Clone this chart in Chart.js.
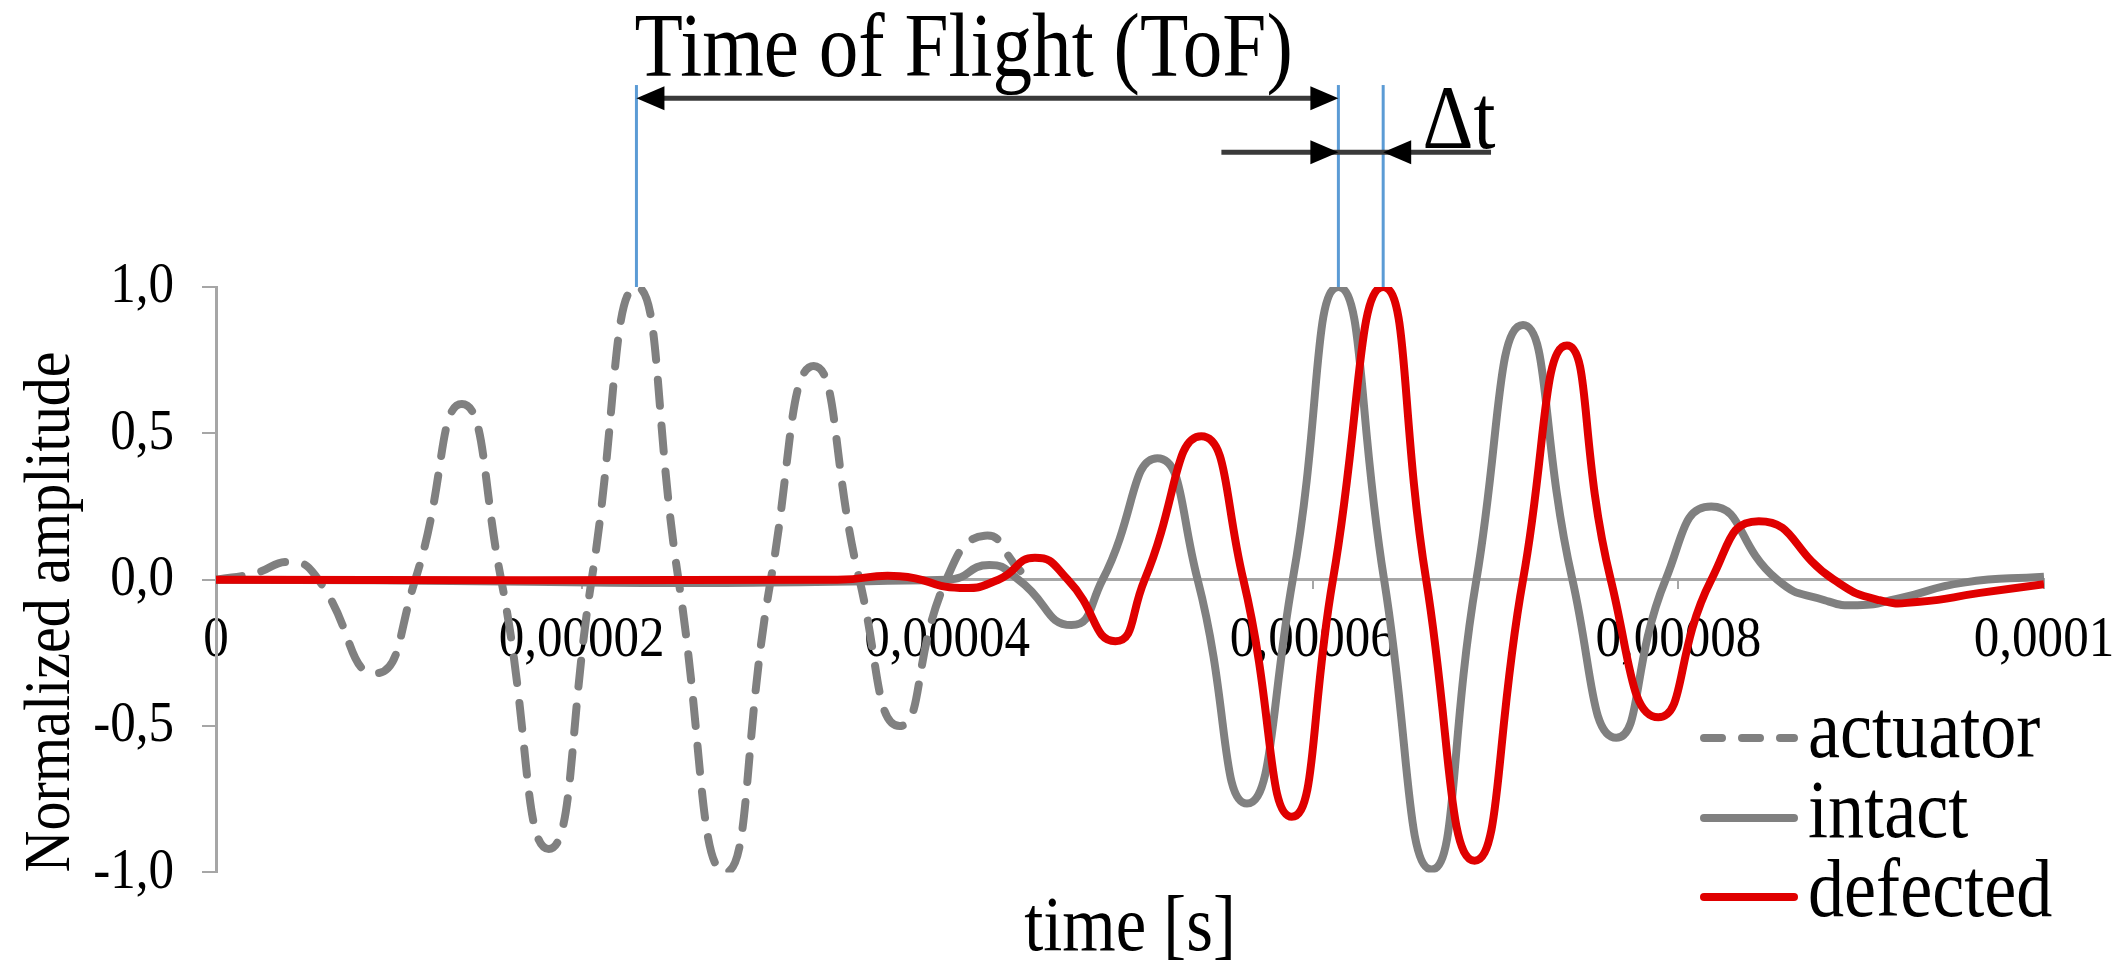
<!DOCTYPE html>
<html>
<head>
<meta charset="utf-8">
<script src="https://cdn.jsdelivr.net/npm/chart.js@4.4.0/dist/chart.umd.min.js"></script>
<style>
  html, body { margin: 0; padding: 0; background: #fff; }
</style>
</head>
<body>
<canvas id="myChart" width="2120" height="980"></canvas>
<script>
// axis ticks
const xTickValues = [0, 0.00002, 0.00004, 0.00006, 0.00008, 0.0001];
const xTickLabels = ['0', '0,00002', '0,00004', '0,00006', '0,00008', '0,0001'];
const yTickValues = [-1, -0.5, 0, 0.5, 1];
const yTickLabels = ['-1,0', '-0,5', '0,0', '0,5', '1,0'];

// signals, time in microseconds, normalized amplitude
const actuatorTime = [0, 2.0, 4.2, 5.6, 8.7, 10.9, 13.45, 15.6, 18.2, 20.55, 23.0, 25.3, 27.85, 30.35, 32.7, 35.2, 37.4, 39.95, 42.05, 44.0];
const actuatorAmp  = [0, 0.02, 0.06, 0, -0.32, 0, 0.60, 0, -0.92, 0, 1.0, 0, -1.0, 0, 0.73, 0, -0.50, 0, 0.15, 0.03];

const intactTime = [0, 40.0, 42.3, 43.9, 46.8, 48.5, 51.5, 53.7, 56.4, 58.9, 61.4, 63.9, 66.5, 68.95, 71.5, 74.2, 76.6, 79.3, 81.8, 85.4, 88.0, 89.8, 92.0, 95.6, 100];
const intactAmp  = [0, 0, 0.05, 0, -0.155, 0, 0.415, 0, -0.765, 0, 1.0, 0, -0.99, 0, 0.87, 0, -0.54, 0, 0.25, 0, -0.07, -0.087, -0.065, -0.01, 0.01];

const defectedTime = [0, 34.0, 37.4, 40.7, 42.8, 44.8, 46.6, 49.2, 50.8, 53.9, 56.2, 58.85, 61.1, 63.85, 66.2, 68.85, 71.5, 73.9, 76.3, 78.9, 81.8, 84.4, 88.5, 91.0, 93.2, 96.5, 100];
const defectedAmp  = [0, 0, 0.012, -0.028, 0, 0.075, 0, -0.21, 0, 0.49, 0, -0.81, 0, 1.0, 0, -0.96, 0, 0.80, 0, -0.47, 0, 0.20, 0, -0.07, -0.075, -0.045, -0.015];

// ToF / delta t markers (data units)
const markers = {
  peakTimes: [23.0e-6, 61.4e-6, 63.85e-6],
  lineTop: 1.69,
  tofLevel: 1.645,
  dtLevel: 1.46,
  dtFrom: 55.0e-6,
  dtTo: 69.75e-6,
  tofText: {x: 40.9e-6, y: 1.80},
  dtText: {x: 68.0e-6, y: 1.556}
};

const serif = "'Liberation Serif', 'Times New Roman', serif";
const condense = 0.88; // the original uses a narrow Times face

function toXY(times, amps) {
  return times.map(function(t, i) { return {x: t * 1e-6, y: amps[i]}; });
}

// squeeze every text draw along its own direction
const narrowTextPlugin = {
  id: 'narrowText',
  beforeDraw(chart) {
    const ctx = chart.ctx;
    if (ctx._narrow) return;
    const fill = ctx.fillText.bind(ctx);
    ctx.fillText = function(text, x, y, maxWidth) {
      ctx.save();
      ctx.translate(x, y);
      ctx.scale(condense, 1);
      if (maxWidth === undefined) {
        fill(text, 0, 0);
      } else {
        fill(text, 0, 0, maxWidth / condense);
      }
      ctx.restore();
    };
    ctx._narrow = true;
  }
};

function arrowHead(ctx, tipX, y, dir) {
  ctx.beginPath();
  ctx.moveTo(tipX, y);
  ctx.lineTo(tipX - dir * 28, y - 12);
  ctx.lineTo(tipX - dir * 28, y + 12);
  ctx.closePath();
  ctx.fill();
}

const tofPlugin = {
  id: 'tofMarks',
  afterDatasetsDraw(chart) {
    const ctx = chart.ctx;
    const x = chart.scales.x, y = chart.scales.y;
    ctx.save();

    // blue guide lines from the peaks
    ctx.strokeStyle = '#5b9bd5';
    ctx.lineWidth = 3;
    markers.peakTimes.forEach(function(t) {
      const px = x.getPixelForValue(t);
      ctx.beginPath();
      ctx.moveTo(px, y.getPixelForValue(markers.lineTop));
      ctx.lineTo(px, y.getPixelForValue(1));
      ctx.stroke();
    });

    const p0 = x.getPixelForValue(markers.peakTimes[0]);
    const p1 = x.getPixelForValue(markers.peakTimes[1]);
    const p2 = x.getPixelForValue(markers.peakTimes[2]);

    // ToF arrow
    ctx.strokeStyle = '#3a3a3a';
    ctx.fillStyle = '#000';
    ctx.lineWidth = 5;
    const ty = y.getPixelForValue(markers.tofLevel);
    ctx.beginPath();
    ctx.moveTo(p0 + 10, ty);
    ctx.lineTo(p1 - 10, ty);
    ctx.stroke();
    arrowHead(ctx, p0, ty, -1);
    arrowHead(ctx, p1, ty, 1);

    // delta t arrows
    const dy = y.getPixelForValue(markers.dtLevel);
    ctx.beginPath();
    ctx.moveTo(x.getPixelForValue(markers.dtFrom), dy);
    ctx.lineTo(x.getPixelForValue(markers.dtTo), dy);
    ctx.stroke();
    arrowHead(ctx, p1, dy, 1);
    arrowHead(ctx, p2, dy, -1);

    // labels
    ctx.fillStyle = '#000';
    ctx.textAlign = 'center';
    ctx.textBaseline = 'middle';
    ctx.font = '90px ' + serif;
    ctx.fillText('Time of Flight (ToF)', x.getPixelForValue(markers.tofText.x), y.getPixelForValue(markers.tofText.y));
    ctx.fillText('\u0394t', x.getPixelForValue(markers.dtText.x), y.getPixelForValue(markers.dtText.y));

    ctx.restore();
  }
};

// legend drawn by hand in the lower right corner
const legendBox = {left: 1700, lineEnd: 1794, textX: 1808, rows: [738, 818, 897], fontSize: 82, dash: [18, 20]};

const legendPlugin = {
  id: 'cornerLegend',
  afterDraw(chart) {
    const ctx = chart.ctx;
    ctx.save();
    ctx.font = legendBox.fontSize + 'px ' + serif;
    ctx.textAlign = 'left';
    ctx.textBaseline = 'alphabetic';
    chart.data.datasets.forEach(function(ds, i) {
      const rowY = legendBox.rows[i];
      ctx.strokeStyle = ds.borderColor;
      ctx.lineWidth = ds.borderWidth;
      ctx.lineCap = 'round';
      ctx.setLineDash(ds.borderDash ? legendBox.dash : []);
      ctx.beginPath();
      ctx.moveTo(legendBox.left + 4, rowY);
      ctx.lineTo(legendBox.lineEnd, rowY);
      ctx.stroke();
      ctx.setLineDash([]);
      ctx.fillStyle = '#000';
      ctx.fillText(ds.label, legendBox.textX, rowY + legendBox.fontSize * 0.23);
    });
    ctx.restore();
  }
};

const config = {
  type: 'line',
  data: {
    datasets: [
      {
        label: 'actuator',
        data: toXY(actuatorTime, actuatorAmp),
        borderColor: '#808080',
        borderWidth: 8,
        borderDash: [26, 20],
        borderCapStyle: 'round',
        tension: 0.55,
        pointRadius: 0,
        fill: false,
        order: 3
      },
      {
        label: 'intact',
        data: toXY(intactTime, intactAmp),
        borderColor: '#808080',
        borderWidth: 8,
        tension: 0.55,
        pointRadius: 0,
        fill: false,
        order: 2
      },
      {
        label: 'defected',
        data: toXY(defectedTime, defectedAmp),
        borderColor: '#e00000',
        borderWidth: 8,
        tension: 0.55,
        pointRadius: 0,
        fill: false,
        order: 1
      }
    ]
  },
  options: {
    responsive: false,
    animation: false,
    events: [],
    layout: {
      padding: {left: 12, top: 287, right: 76, bottom: 4}
    },
    scales: {
      x: {
        type: 'linear',
        position: {y: 0},
        min: 0,
        max: 0.0001,
        afterBuildTicks: function(scale) {
          scale.ticks = xTickValues.map(function(v) { return {value: v}; });
        },
        afterFit: function(scale) {
          // labels may overhang the plot edges, as in the original
          scale.paddingLeft = 0;
          scale.paddingRight = 0;
        },
        ticks: {
          autoSkip: false,
          maxRotation: 0,
          padding: 18,
          color: '#000',
          font: {family: serif, size: 58},
          callback: function(value, index) { return xTickLabels[index]; }
        },
        grid: {drawOnChartArea: false, drawTicks: true, tickLength: 8, color: '#a6a6a6', lineWidth: 2},
        border: {display: true, color: '#a6a6a6', width: 3}
      },
      xTitle: {
        type: 'linear',
        position: 'bottom',
        min: 0,
        max: 1,
        ticks: {display: false},
        grid: {display: false, drawTicks: false},
        border: {display: false},
        title: {
          display: true,
          text: 'time [s]',
          color: '#000',
          font: {family: serif, size: 78},
          padding: {top: 10, bottom: 0}
        }
      },
      y: {
        type: 'linear',
        position: 'left',
        min: -1,
        max: 1,
        afterBuildTicks: function(scale) {
          scale.ticks = yTickValues.map(function(v) { return {value: v}; });
        },
        afterFit: function(scale) {
          scale.width = 204;
        },
        ticks: {
          padding: 28,
          color: '#000',
          font: {family: serif, size: 58},
          callback: function(value, index) { return yTickLabels[index]; }
        },
        grid: {drawOnChartArea: false, drawTicks: true, tickLength: 14, color: '#a6a6a6', lineWidth: 2},
        border: {display: true, color: '#a6a6a6', width: 3},
        title: {
          display: true,
          text: 'Normalized amplitude',
          align: 'start',
          color: '#000',
          font: {family: serif, size: 66},
          padding: {top: 0, bottom: 0}
        }
      }
    },
    plugins: {
      legend: {display: false},
      tooltip: {enabled: false}
    }
  },
  plugins: [narrowTextPlugin, tofPlugin, legendPlugin]
};

var myChart = new Chart(document.getElementById('myChart'), config);
</script>
</body>
</html>
